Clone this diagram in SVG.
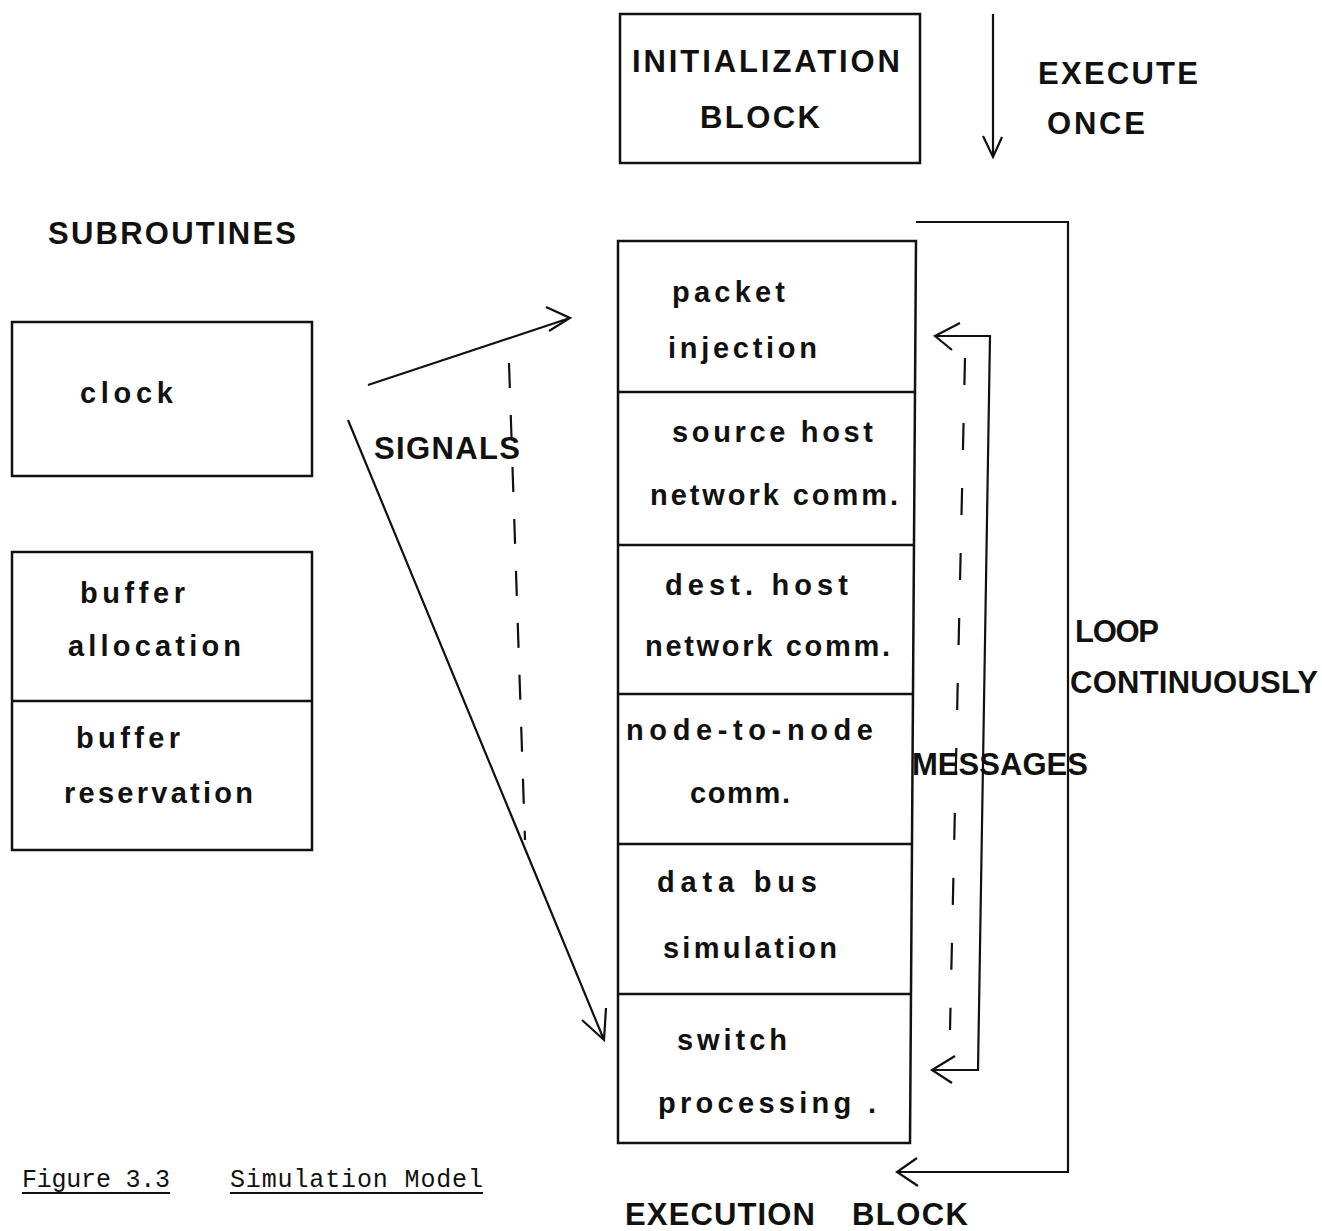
<svg xmlns="http://www.w3.org/2000/svg" width="1322" height="1231" viewBox="0 0 1322 1231">
<style>
.box{fill:none;stroke:#111;stroke-width:2.5}
.ln{fill:none;stroke:#111;stroke-width:2.2}
.dash{fill:none;stroke:#111;stroke-width:2.2;stroke-dasharray:25 27}
.dash2{fill:none;stroke:#111;stroke-width:2.2;stroke-dasharray:27 38}
.cap{font-family:"Liberation Sans",Arial,sans-serif;font-size:31px;font-weight:bold;fill:#111}
.low{font-family:"Liberation Sans",Arial,sans-serif;font-size:29px;font-weight:bold;fill:#111}
.mono{font-family:"Liberation Mono","Courier New",monospace;font-size:25px;fill:#111}
</style>
<rect width="1322" height="1231" fill="#fff"/>

<g id="init-block">
<rect class="box" x="620" y="14" width="300" height="149"/>
<text class="cap" x="632" y="72" textLength="268" lengthAdjust="spacing">INITIALIZATION</text>
<text class="cap" x="700" y="128" textLength="120" lengthAdjust="spacing">BLOCK</text>
</g>

<g id="execute-once-label">
<text class="cap" x="1038" y="84" textLength="160" lengthAdjust="spacing">EXECUTE</text>
<text class="cap" x="1047" y="134" textLength="98" lengthAdjust="spacing">ONCE</text>
</g>

<g id="subroutines-label">
<text class="cap" x="48" y="244" textLength="248" lengthAdjust="spacing">SUBROUTINES</text>
</g>

<g id="clock">
<rect class="box" x="12" y="322" width="300" height="154"/>
<text class="low" x="80" y="403" textLength="93" lengthAdjust="spacing">clock</text>
</g>

<g id="buffer">
<rect class="box" x="12" y="552" width="300" height="298"/>
<line class="box" x1="12" y1="701" x2="312" y2="701"/>
<text class="low" x="80" y="603" textLength="105" lengthAdjust="spacing">buffer</text>
<text class="low" x="68" y="656" textLength="173" lengthAdjust="spacing">allocation</text>
<text class="low" x="76" y="748" textLength="104" lengthAdjust="spacing">buffer</text>
<text class="low" x="64" y="803" textLength="189" lengthAdjust="spacing">reservation</text>
</g>

<g id="execution-block">
<path class="box" d="M618 241 H916 L910 1143 H618 Z"/>
<line class="box" x1="618" y1="392" x2="915" y2="392"/>
<line class="box" x1="618" y1="545" x2="914" y2="545"/>
<line class="box" x1="618" y1="694" x2="913" y2="694"/>
<line class="box" x1="618" y1="844" x2="912" y2="844"/>
<line class="box" x1="618" y1="994" x2="911" y2="994"/>
<text class="low" x="672" y="302" textLength="113" lengthAdjust="spacing">packet</text>
<text class="low" x="668" y="358" textLength="149" lengthAdjust="spacing">injection</text>
<text class="low" x="672" y="442" textLength="201" lengthAdjust="spacing">source host</text>
<text class="low" x="650" y="505" textLength="248" lengthAdjust="spacing">network comm.</text>
<text class="low" x="665" y="595" textLength="183" lengthAdjust="spacing">dest. host</text>
<text class="low" x="645" y="656" textLength="245" lengthAdjust="spacing">network comm.</text>
<text class="low" x="626" y="740" textLength="247" lengthAdjust="spacing">node-to-node</text>
<text class="low" x="690" y="803" textLength="100" lengthAdjust="spacing">comm.</text>
<text class="low" x="657" y="892" textLength="160" lengthAdjust="spacing">data bus</text>
<text class="low" x="663" y="958" textLength="174" lengthAdjust="spacing">simulation</text>
<text class="low" x="677" y="1050" textLength="110" lengthAdjust="spacing">switch</text>
<text class="low" x="658" y="1113" textLength="218" lengthAdjust="spacing">processing .</text>
<text class="cap" x="625" y="1225" textLength="190" lengthAdjust="spacing">EXECUTION</text>
<text class="cap" x="852" y="1225" textLength="116" lengthAdjust="spacing">BLOCK</text>
</g>

<g id="connectors">
<path class="ln" d="M993 14 V157 M983 136 L993 157 L1002 137"/>
<path class="ln" d="M916 222 H1068 V1172 H897 M917 1158 L897 1172 L918 1186"/>
<path class="ln" d="M935 336 H990 L978 1070 H932 M960 323 L935 336 L952 350 M955 1056 L932 1070 L952 1083"/>
<path class="dash2" d="M965 358 L950 1030"/>
<path class="ln" d="M368 385 L570 318 M546 307 L570 318 L549 331"/>
<path class="ln" d="M348 420 L604 1040 M582 1020 L604 1040 L606 1008"/>
<path class="dash" d="M509 363 L525 840"/>
</g>

<g id="edge-labels">
<text class="cap" x="374" y="459" textLength="146" lengthAdjust="spacing">SIGNALS</text>
<text class="cap" x="912" y="775" textLength="176" lengthAdjust="spacing">MESSAGES</text>
<text class="cap" x="1075" y="642" textLength="84" lengthAdjust="spacing">LOOP</text>
<text class="cap" x="1070" y="693" textLength="248" lengthAdjust="spacing">CONTINUOUSLY</text>
</g>

<g id="caption">
<text class="mono" x="22" y="1187" textLength="148" lengthAdjust="spacing">Figure 3.3</text>
<text class="mono" x="230" y="1187" textLength="253" lengthAdjust="spacing">Simulation Model</text>
<line class="ln" x1="22" y1="1193" x2="170" y2="1193" stroke-width="1.5"/>
<line class="ln" x1="230" y1="1193" x2="483" y2="1193" stroke-width="1.5"/>
</g>
</svg>
